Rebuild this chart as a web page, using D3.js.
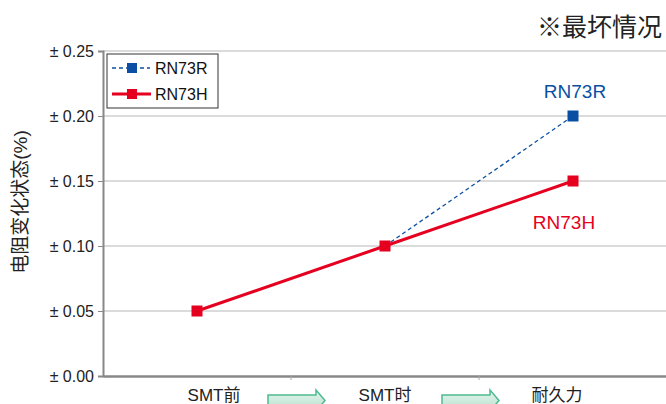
<!DOCTYPE html>
<html><head><meta charset="utf-8">
<script src="https://cdn.jsdelivr.net/npm/d3@7/dist/d3.min.js"></script>
<style>body{margin:0;background:#fff}</style>
</head><body><svg id="c" width="666" height="404"></svg>
<script>
const categories = ["SMT前", "SMT时", "耐久力"];
const seriesR = [0.05, 0.10, 0.20];
const seriesH = [0.05, 0.10, 0.15];
const yTicks = [0, 0.05, 0.10, 0.15, 0.20, 0.25];
const yTickLabels = ["± 0.00", "± 0.05", "± 0.10", "± 0.15", "± 0.20", "± 0.25"];
const seriesNames = ["RN73R", "RN73H"];

const FONT = "'Liberation Sans', 'Noto Sans CJK SC', Arial, sans-serif";
const svg = d3.select("#c").style("font-family", FONT);
const mLeft = 103, mRight = 667, mTop = 51, mBottom = 376;
const x = d3.scaleBand().domain(categories).range([mLeft, mRight]);
const y = d3.scaleLinear().domain([0, 0.25]).range([mBottom, mTop]);
const blue = "#0a4fa3", red = "#e60020";

// gridlines
svg.append("g").selectAll("line").data(yTicks.slice(1)).join("line")
  .attr("x1", mLeft).attr("x2", 666).attr("y1", d => y(d)).attr("y2", d => y(d))
  .attr("stroke", "#cfcfcf").attr("stroke-width", 1.3);

// y axis
const ya = svg.append("g").attr("transform", `translate(${mLeft},0)`)
  .call(d3.axisLeft(y).tickValues(yTicks).tickFormat((d, i) => yTickLabels[i]).tickSize(5).tickPadding(4));
ya.attr("font-family", null);
ya.select(".domain").attr("stroke", "#888").attr("stroke-width", 2);
ya.selectAll(".tick line").attr("stroke", "#888");
ya.selectAll(".tick text").attr("font-size", 16).attr("fill", "#222");

// x axis
const labelShift = [17, 0, -16];
const xa = svg.append("g").attr("transform", `translate(0,${mBottom})`)
  .call(d3.axisBottom(x).tickSize(0).tickPadding(13));
xa.attr("font-family", null);
xa.select(".domain").attr("stroke", "#888").attr("stroke-width", 2.5);
xa.selectAll(".tick text").attr("font-size", 17).attr("fill", "#222").attr("dx", (d, i) => labelShift[i]);
// boundary ticks
svg.append("g").selectAll("line").data(categories.slice(1)).join("line")
  .attr("x1", d => x(d)).attr("x2", d => x(d)).attr("y1", mBottom).attr("y2", mBottom + 4)
  .attr("stroke", "#aaa");

// arrows
const grad = svg.append("defs").append("linearGradient").attr("id", "ag").attr("x1", 0).attr("y1", 0).attr("x2", 0).attr("y2", 1);
grad.append("stop").attr("offset", 0).attr("stop-color", "#e6f5ef");
grad.append("stop").attr("offset", 1).attr("stop-color", "#b5e0cd");
[[x(categories[1]) - 23], [x(categories[2]) - 37]].forEach(([ax]) => {
  const w = 57, yt = 392, h = 13, head = 9;
  const p = `M${ax},${yt + 3} L${ax + w - head},${yt + 3} L${ax + w - head},${yt - 2} L${ax + w},${yt + h / 2 + 2} L${ax + w - head},${yt + h + 6} L${ax + w - head},${yt + h + 3} L${ax},${yt + h + 3} Z`;
  svg.append("path").attr("d", p).attr("fill", "url(#ag)").attr("stroke", "#4dbb8e").attr("stroke-width", 1.5);
});

const cx = d => x(d) + x.bandwidth() / 2;
const line = d3.line().x((d, i) => cx(categories[i])).y(d => y(d));

// RN73R (dashed blue) from SMT时 onward
svg.append("path").datum(seriesR).attr("d", d3.line().defined((d, i) => i >= 1).x((d, i) => cx(categories[i])).y(d => y(d)))
  .attr("fill", "none").attr("stroke", blue).attr("stroke-width", 1.3).attr("stroke-dasharray", "4,3");
svg.append("g").selectAll("rect").data(seriesR.slice(2)).join("rect")
  .attr("x", d => cx(categories[2]) - 5.5).attr("y", d => y(d) - 5.5).attr("width", 11).attr("height", 11).attr("fill", blue);

// RN73H (solid red)
svg.append("path").datum(seriesH).attr("d", line).attr("fill", "none").attr("stroke", red).attr("stroke-width", 3);
svg.append("g").selectAll("rect").data(seriesH).join("rect")
  .attr("x", (d, i) => cx(categories[i]) - 5.5).attr("y", d => y(d) - 5.5).attr("width", 11).attr("height", 11).attr("fill", red);

// series labels
svg.append("text").attr("x", cx(categories[2]) + 2).attr("y", y(seriesR[2]) - 18).attr("text-anchor", "middle")
  .attr("font-size", 19).attr("fill", blue).text(seriesNames[0]);
svg.append("text").attr("x", cx(categories[2]) - 9).attr("y", y(seriesH[2]) + 48).attr("text-anchor", "middle")
  .attr("font-size", 19).attr("fill", red).text(seriesNames[1]);

// legend
const lg = svg.append("g");
lg.append("rect").attr("x", 107).attr("y", 54).attr("width", 111).attr("height", 54).attr("fill", "#fff").attr("stroke", "#333").attr("stroke-width", 1);
lg.append("line").attr("x1", 112).attr("x2", 150).attr("y1", 68).attr("y2", 68).attr("stroke", blue).attr("stroke-width", 1.3).attr("stroke-dasharray", "4,3");
lg.append("rect").attr("x", 127).attr("y", 63).attr("width", 10).attr("height", 10).attr("fill", blue);
lg.append("line").attr("x1", 112).attr("x2", 151).attr("y1", 94).attr("y2", 94).attr("stroke", red).attr("stroke-width", 3);
lg.append("rect").attr("x", 127).attr("y", 89).attr("width", 10).attr("height", 10).attr("fill", red);
lg.append("text").attr("x", 155).attr("y", 74).attr("font-size", 16).attr("fill", "#111").text(seriesNames[0]);
lg.append("text").attr("x", 155).attr("y", 100).attr("font-size", 16).attr("fill", "#111").text(seriesNames[1]);

// y label
svg.append("text").attr("transform", "translate(27,202) rotate(-90)").attr("text-anchor", "middle")
  .attr("font-size", 19).attr("fill", "#222").text("电阻变化状态(%)");

// title note
svg.append("text").attr("x", 662).attr("y", 36).attr("text-anchor", "end").attr("font-size", 25).attr("font-weight", 400)
  .attr("fill", "#222").style("font-family", "'Noto Sans CJK SC', sans-serif").text("※最坏情况");
</script></body></html>
